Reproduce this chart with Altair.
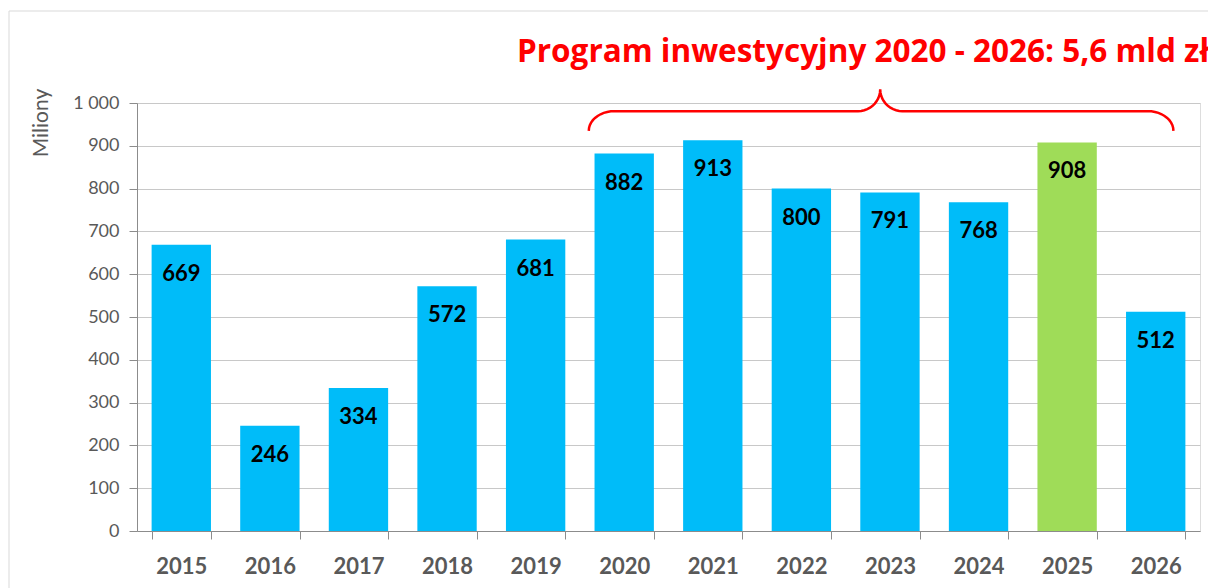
import altair as alt
import pandas as pd
import numpy as np

years = ["2015", "2016", "2017", "2018", "2019", "2020", "2021", "2022", "2023", "2024", "2025", "2026"]
values = [669, 246, 334, 572, 681, 882, 913, 800, 791, 768, 908, 512]
highlight_year = "2025"
title_text = "Program inwestycyjny 2020 - 2026: 5,6 mld zł"
y_title = "Miliony"

BLUE = "#00BCF9"
GREEN = "#9FDC58"
RED = "#FF0000"
GRAY_TXT = "#595959"
GRID = "#C8C8C8"
AXIS = "#8C8C8C"
FONT = "Lato"

W, H = 1063, 428

df = pd.DataFrame({"year": years, "value": values})

# brace annotation geometry (x in category-index units, y in data units)
L, R, T = 5.10, 11.70, 8.39
arm_bottom, bar_lvl, tip = 935, 981, 1032
rx, rxt = 0.29, 0.25
ry, ryt = bar_lvl - arm_bottom, tip - bar_lvl
t = np.linspace(0, np.pi / 2, 12)
pts = []
pts += list(zip(L + rx - rx * np.cos(t), arm_bottom + ry * np.sin(t)))
pts += list(zip(T - rxt + rxt * np.sin(t), tip - ryt * np.cos(t)))
pts += list(zip((T + rxt - rxt * np.sin(t))[::-1], (tip - ryt * np.cos(t))[::-1]))
pts += list(zip((R - rx + rx * np.cos(t))[::-1], (arm_bottom + ry * np.sin(t))[::-1]))
brace = pd.DataFrame({"bx": [p[0] for p in pts], "by": [p[1] for p in pts], "o": list(range(len(pts)))})

yscale = alt.Scale(domain=[0, 1000], nice=False, zero=True)
xscale = alt.Scale(paddingInner=0.33, paddingOuter=0.165)

X_AXIS = alt.Axis(
    title=None, labelAngle=0, labelFont=FONT, labelFontSize=22, labelFontWeight="bold",
    labelColor=GRAY_TXT, tickBand="extent", tickSize=8, tickColor=AXIS, domainColor=AXIS,
    labelBaseline="middle", labelPadding=27, grid=False)
Y_AXIS = alt.Axis(
    title=None, values=list(range(0, 1001, 100)), labelFont=FONT, labelFontSize=18,
    labelColor=GRAY_TXT, tickSize=8, tickColor=AXIS, domainColor=AXIS, gridColor=GRID,
    labelPadding=10, labelExpr="replace(format(datum.value, ','), ',', ' ')")

X_ENC = alt.X("year:N", scale=xscale, sort=years, axis=X_AXIS)
Y_ENC = alt.Y("value:Q", scale=yscale, axis=Y_AXIS)

base = alt.Chart(df)

bars = base.mark_bar().encode(
    x=X_ENC, y=Y_ENC,
    color=alt.condition(alt.datum.year == highlight_year, alt.value(GREEN), alt.value(BLUE)),
)

labels = base.mark_text(font=FONT, fontSize=22, fontWeight="bold", color="black",
                        baseline="middle", dy=29).encode(
    x=X_ENC, y=Y_ENC, text="value:Q")

bar_layer = alt.layer(bars, labels)

brace_line = alt.Chart(brace).mark_line(color=RED, strokeWidth=2.5, clip=False).encode(
    x=alt.X("bx:Q", scale=alt.Scale(domain=[0, 12], nice=False, zero=False), axis=None),
    y=alt.Y("by:Q", scale=yscale, axis=Y_AXIS),
    order="o:Q",
)

title = alt.Chart(pd.DataFrame({"t": [title_text]})).mark_text(
    font="Open Sans", fontSize=31.5, fontWeight="bold", color=RED, align="left", baseline="alphabetic"
).encode(text="t:N", x=alt.value(380), y=alt.value(-41))

ytitle = alt.Chart(pd.DataFrame({"t": [y_title]})).mark_text(
    font=FONT, fontSize=21, color=GRAY_TXT, angle=270, align="center", baseline="middle"
).encode(text="t:N", x=alt.value(-95), y=alt.value(20))

frame = alt.Chart(pd.DataFrame({"a": [0]})).mark_rect(filled=False, stroke="#D9D9D9", strokeWidth=1).encode(
    x=alt.value(-128), x2=alt.value(1200), y=alt.value(-92), y2=alt.value(600))

chart = alt.layer(frame, bar_layer, brace_line, title, ytitle).resolve_scale(
    x="independent"
).properties(
    width=W, height=H,
    autosize=alt.AutoSizeParams(type="none"),
    padding={"left": 137, "top": 103, "right": 8, "bottom": 57},
).configure_view(stroke=GRID).configure(background="white")

chart.save("out.html", embed_options={"renderer": "svg", "actions": False})
